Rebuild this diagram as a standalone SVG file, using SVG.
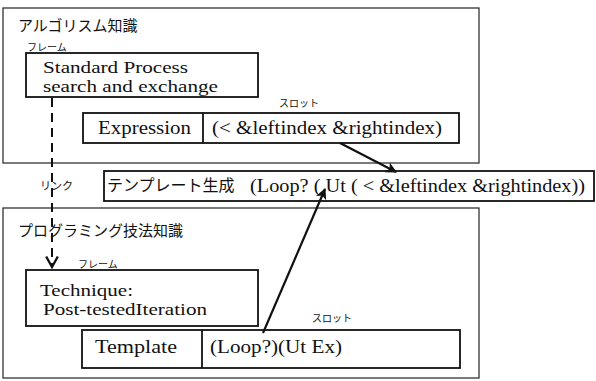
<svg xmlns="http://www.w3.org/2000/svg" width="596" height="381" viewBox="0 0 596 381">
  <style>
    .region { fill: none; stroke: #333; stroke-width: 1.3; }
    .box { fill: #fff; stroke: #111; stroke-width: 1.8; }
    .en { font-family: "Liberation Serif", "Times New Roman", serif; fill: #111; }
    .jp { font-family: "Noto Sans CJK JP", "Noto Sans", sans-serif; fill: #111; }
    .wire { stroke: #111; stroke-width: 2.2; fill: none; }
    .link { stroke: #111; stroke-width: 2; stroke-dasharray: 9 6; fill: none; }
  </style>
  <defs>
    <marker id="head" viewBox="0 0 10 10" refX="9" refY="5" markerWidth="5" markerHeight="5" orient="auto" markerUnits="strokeWidth">
      <path d="M0,0 L10,5 L0,10 L2.5,5 z" fill="#111"/>
    </marker>
    <marker id="vhead" viewBox="0 0 12 12" refX="10" refY="6" markerWidth="7" markerHeight="7" orient="auto" markerUnits="strokeWidth">
      <path d="M1,1 L10,6 L1,11" fill="none" stroke="#111" stroke-width="2"/>
    </marker>
  </defs>

  <rect width="596" height="381" fill="#fff"/>

  <!-- algorithm knowledge region -->
  <g id="algorithm-knowledge">
    <rect class="region" x="3" y="8" width="476" height="155"/>
    <text class="jp" x="18" y="31" font-size="15">アルゴリスム知識</text>
    <text class="jp" x="27" y="51" font-size="10">フレーム</text>
  </g>

  <g id="frame-standard-process">
    <rect class="box" x="26" y="53" width="232" height="44"/>
    <text class="en" x="43" y="73" font-size="17" textLength="145" lengthAdjust="spacingAndGlyphs">Standard Process</text>
    <text class="en" x="43" y="92" font-size="17" textLength="175" lengthAdjust="spacingAndGlyphs">search and exchange</text>
  </g>

  <g id="slot-expression">
    <text class="jp" x="279" y="107" font-size="10">スロット</text>
    <rect class="box" x="83" y="113" width="376" height="30"/>
    <line x1="203" y1="113" x2="203" y2="143" stroke="#111" stroke-width="1.8"/>
    <text class="en" x="98" y="134" font-size="18" textLength="93" lengthAdjust="spacingAndGlyphs">Expression</text>
    <text class="en" x="212" y="134" font-size="18" textLength="230" lengthAdjust="spacingAndGlyphs">(&lt;  &amp;leftindex &amp;rightindex)</text>
  </g>

  <!-- template generation result -->
  <g id="template-generation">
    <rect class="box" x="104" y="171" width="490" height="30"/>
    <text class="jp" x="107" y="191" font-size="16">テンプレート生成</text>
    <text class="en" x="250" y="192" font-size="19" textLength="335" lengthAdjust="spacingAndGlyphs">(Loop? ( Ut ( &lt; &amp;leftindex &amp;rightindex))</text>
  </g>

  <g id="link-label">
    <text class="jp" x="40" y="190" font-size="11">リンク</text>
  </g>

  <!-- programming technique knowledge region -->
  <g id="programming-knowledge">
    <rect class="region" x="3" y="208" width="476" height="170"/>
    <text class="jp" x="18" y="236" font-size="15">プログラミング技法知識</text>
    <text class="jp" x="78" y="268" font-size="10">フレーム</text>
  </g>

  <g id="frame-technique">
    <rect class="box" x="26" y="270" width="232" height="56"/>
    <text class="en" x="40" y="296" font-size="17" textLength="93" lengthAdjust="spacingAndGlyphs">Technique:</text>
    <text class="en" x="43" y="315" font-size="17" textLength="164" lengthAdjust="spacingAndGlyphs">Post-testedIteration</text>
  </g>

  <g id="slot-template">
    <text class="jp" x="312" y="322" font-size="10">スロット</text>
    <rect class="box" x="82" y="330" width="378" height="38"/>
    <line x1="202" y1="330" x2="202" y2="368" stroke="#111" stroke-width="1.8"/>
    <text class="en" x="95" y="353" font-size="18" textLength="82" lengthAdjust="spacingAndGlyphs">Template</text>
    <text class="en" x="210" y="353" font-size="18" textLength="132" lengthAdjust="spacingAndGlyphs">(Loop?)(Ut Ex)</text>
  </g>

  <!-- connectors -->
  <g id="connectors">
    <path class="link" d="M52,98 L52,267" marker-end="url(#vhead)"/>
    <path class="wire" d="M340,143 L396,172" marker-end="url(#head)"/>
    <path class="wire" d="M263,333 L325,189" marker-end="url(#head)"/>
  </g>
</svg>
